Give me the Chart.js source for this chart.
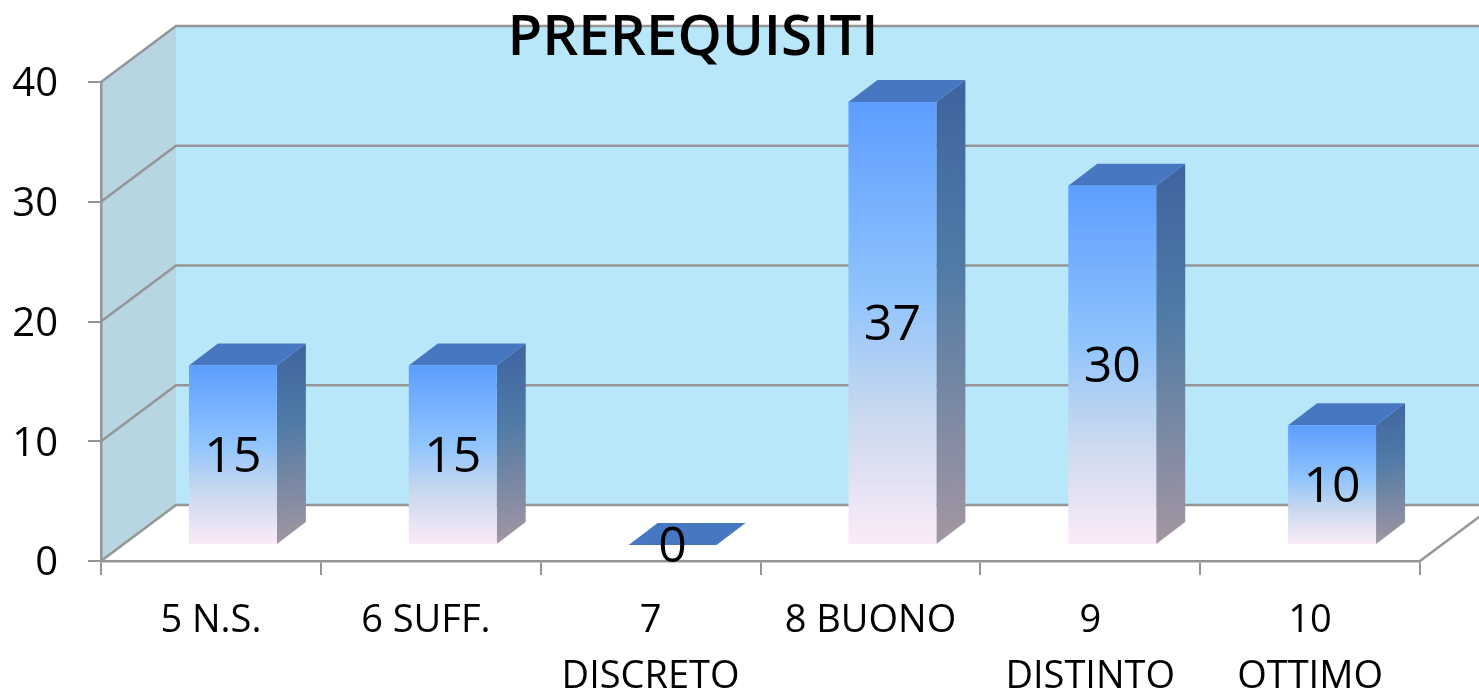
<!DOCTYPE html>
<html>
<head>
<meta charset="utf-8">
<title>PREREQUISITI</title>
<script src="https://cdn.jsdelivr.net/npm/chart.js@4"></script>
<style>
  html, body { margin: 0; padding: 0; background: #fff; overflow: hidden; }
  #wrap { width: 1479px; height: 691px; }
</style>
</head>
<body>
<div id="wrap"><canvas id="grafico" width="1479" height="691"></canvas></div>
<script>
const categorie = [["5 N.S."], ["6 SUFF. "], ["7", "DISCRETO"], ["8 BUONO"], ["9", "DISTINTO"], ["10", "OTTIMO"]];
const valori = [15, 15, 0, 37, 30, 10];
const titolo = "PREREQUISITI";
const font = "'Open Sans'";
const grigio = "#959595";

// 3D look: wall depth and bar shift
const muroX = 75, muroY = 56;
const barDx = 22, barDy = 16;
const latoX = 29, latoY = 22;

const finto3d = {
  id: "finto3d",
  afterLayout(chart) {
    // title is centred on the wall picture, not on the canvas
    chart.titleBlock.left -= 17;
    chart.titleBlock.right -= 17;
  },
  afterDatasetsUpdate(chart) {
    chart.getDatasetMeta(0).data.forEach(el => {
      el.x += barDx;
      el.y -= barDy;
      el.base -= barDy;
    });
  },
  beforeDraw(chart) {
    const { ctx, chartArea: a, scales: { y } } = chart;
    const w = chart.width;
    const l = a.left, b = a.bottom, t = a.top;
    ctx.save();
    ctx.fillStyle = "#b8e7fa";
    ctx.fillRect(l + muroX, t - muroY, w - l - muroX, b - t);
    ctx.fillStyle = "#b8d5e2";
    ctx.beginPath();
    ctx.moveTo(l, b);
    ctx.lineTo(l + muroX, b - muroY);
    ctx.lineTo(l + muroX, t - muroY);
    ctx.lineTo(l, t);
    ctx.closePath();
    ctx.fill();
    ctx.strokeStyle = grigio;
    ctx.lineWidth = 2.5;
    y.ticks.forEach(tk => {
      const py = y.getPixelForValue(tk.value);
      ctx.beginPath();
      ctx.moveTo(l, py);
      ctx.lineTo(l + muroX, py - muroY);
      ctx.lineTo(w, py - muroY);
      ctx.stroke();
    });
    // right edge of the floor
    ctx.beginPath();
    ctx.moveTo(a.right, b);
    ctx.lineTo(a.right + muroX, b - muroY);
    ctx.stroke();
    ctx.restore();
  },
  beforeDatasetsDraw(chart) {
    const { ctx } = chart;
    ctx.save();
    chart.getDatasetMeta(0).data.forEach((el, i) => {
      const r = el.x + el.width / 2, s = el.x - el.width / 2;
      const top = el.y, base = el.base;
      if (valori[i] > 0) {
        const g = ctx.createLinearGradient(r, top - latoY, r + latoX, base);
        g.addColorStop(0, "#3e63a0");
        g.addColorStop(0.4, "#4f7ba6");
        g.addColorStop(1, "#a596a2");
        ctx.fillStyle = g;
        ctx.beginPath();
        ctx.moveTo(r, top);
        ctx.lineTo(r + latoX, top - latoY);
        ctx.lineTo(r + latoX, base - latoY);
        ctx.lineTo(r, base);
        ctx.closePath();
        ctx.fill();
      }
      ctx.fillStyle = "#4877c1";
      ctx.beginPath();
      ctx.moveTo(s, top);
      ctx.lineTo(s + latoX, top - latoY);
      ctx.lineTo(r + latoX, top - latoY);
      ctx.lineTo(r, top);
      ctx.closePath();
      ctx.fill();
    });
    ctx.restore();
  },
  afterDatasetsDraw(chart) {
    const { ctx } = chart;
    ctx.save();
    ctx.fillStyle = "#000";
    ctx.font = "50px " + font;
    ctx.textAlign = "center";
    ctx.textBaseline = "middle";
    chart.getDatasetMeta(0).data.forEach((el, i) => {
      ctx.fillText(String(valori[i]), el.x, (el.y + el.base) / 2 + 3);
    });
    ctx.restore();
  }
};

new Chart(document.getElementById("grafico"), {
  type: "bar",
  data: {
    labels: categorie,
    datasets: [{
      data: valori,
      barPercentage: 0.4,
      categoryPercentage: 1,
      borderWidth: 0,
      backgroundColor(c) {
        if (c.type !== "data") return "#5c9dff";
        const y = c.chart.scales.y;
        const top = y.getPixelForValue(c.raw) - barDy;
        const base = y.getPixelForValue(0) - barDy;
        if (!Number.isFinite(top) || !Number.isFinite(base)) return "#5c9dff";
        if (base - top < 1) return "rgba(0,0,0,0)";
        const g = c.chart.ctx.createLinearGradient(0, top, 0, base);
        g.addColorStop(0, "#5c9dff");
        g.addColorStop(0.45, "#92c5fc");
        g.addColorStop(0.7, "#c8d8ee");
        g.addColorStop(1, "#fcebf8");
        return g;
      }
    }]
  },
  plugins: [finto3d],
  options: {
    responsive: false,
    animation: false,
    layout: { autoPadding: false, padding: { left: 0, right: 59, top: 0, bottom: 0 } },
    plugins: {
      legend: { display: false },
      tooltip: { enabled: false },
      title: {
        display: true,
        text: titolo,
        color: "#000",
        font: { family: font, size: 56.5, weight: "600", lineHeight: 1.2 },
        padding: { top: 5, bottom: 9.2 }
      }
    },
    scales: {
      x: {
        afterFit(s) { s.height = 130; },
        border: { color: grigio, width: 2.5 },
        grid: { drawOnChartArea: false, color: grigio, lineWidth: 2, tickLength: 14, offset: true },
        ticks: {
          color: "#000",
          font: { family: font, size: 38, lineHeight: 1.47 },
          maxRotation: 0,
          autoSkip: false,
          padding: 18
        }
      },
      y: {
        min: 0,
        max: 40,
        afterFit(s) { s.width = 101; },
        border: { color: grigio, width: 2.5 },
        grid: { drawOnChartArea: false, color: grigio, lineWidth: 2, tickLength: 13 },
        ticks: {
          stepSize: 10,
          color: "#000",
          font: { family: font, size: 40 },
          padding: 30,
          labelOffset: 3
        }
      }
    }
  }
});
</script>
</body>
</html>
